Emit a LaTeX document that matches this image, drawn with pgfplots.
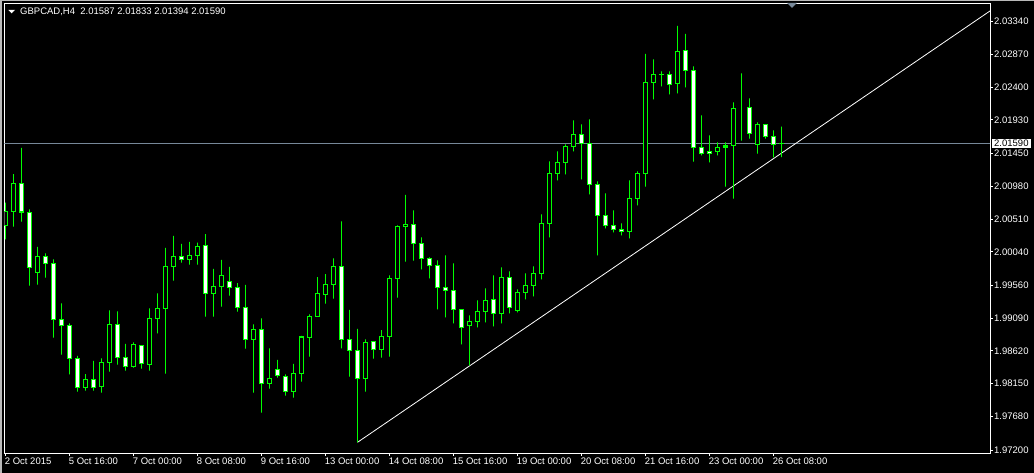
\documentclass[border=0pt]{standalone}
\usepackage{pgfplots}
\pgfplotsset{compat=1.18}
\usepackage{pgfplotstable}
\usepackage{fontspec}
\setmainfont{Liberation Sans}
\definecolor{mtgreen}{rgb}{0,1,0}
\definecolor{bidgray}{RGB}{119,136,153}

\pgfplotstableread{
k o h l c
0 2.00419 2.00742 2.00218 2.00619
1 2.00616 2.01153 2.00399 2.01020
2 2.01020 2.01526 2.00470 2.00609
3 2.00605 2.00648 1.99554 1.99817
4 1.99740 2.00108 1.99568 1.99975
5 1.99975 2.00018 1.99668 1.99875
6 1.99875 1.99932 1.98809 1.99073
7 1.99073 1.99302 1.98566 1.98981
8 1.98987 1.99015 1.98285 1.98514
9 1.98514 1.98547 1.98036 1.98099
10 1.98099 1.98289 1.98050 1.98213
11 1.98213 1.98476 1.98050 1.98099
12 1.98108 1.98514 1.98022 1.98457
13 1.98457 1.99202 1.98322 1.99001
14 1.99001 1.99187 1.98423 1.98529
15 1.98529 1.98719 1.98337 1.98400
16 1.98394 1.98743 1.98380 1.98715
17 1.98700 1.98700 1.98365 1.98443
18 1.98428 1.99230 1.98337 1.99087
19 1.99087 1.99445 1.98872 1.99230
20 1.99230 2.00094 1.98294 1.99832
21 1.99832 2.00266 1.99625 1.99975
22 1.99975 2.00151 1.99883 1.99932
23 1.99932 2.00180 1.99855 1.99989
24 1.99989 2.00170 1.99855 2.00118
25 2.00132 2.00294 1.99110 1.99445
26 1.99445 1.99793 1.99110 1.99545
27 1.99545 1.99922 1.99253 1.99703
28 1.99617 1.99822 1.99411 1.99531
29 1.99531 1.99592 1.99182 1.99245
30 1.99245 1.99564 1.98652 1.98786
31 1.98786 1.99001 1.98022 1.98929
32 1.98929 1.99087 1.97735 1.98156
33 1.98156 1.98657 1.98079 1.98228
34 1.98357 1.98490 1.98236 1.98271
35 1.98256 1.98285 1.97979 1.98036
36 1.98036 1.98433 1.97950 1.98299
37 1.98299 1.98834 1.98179 1.98819
38 1.98815 1.99144 1.98537 1.99116
39 1.99116 1.99678 1.99116 1.99445
40 1.99431 1.99721 1.99296 1.99574
41 1.99574 1.99946 1.99368 1.99832
42 1.99832 2.00476 1.98655 1.98786
43 1.98786 1.99206 1.98251 1.98629
44 1.98629 1.98934 1.97311 1.98228
45 1.98228 1.98786 1.98036 1.98743
46 1.98758 1.98758 1.98508 1.98643
47 1.98643 1.98919 1.98523 1.98829
48 1.98829 1.99703 1.98537 1.99660
49 1.99660 2.00419 1.99382 2.00404
50 2.00404 2.00853 1.99898 2.00433
51 2.00433 2.00634 1.99912 2.00161
52 2.00161 2.00247 1.99789 1.99946
53 1.99946 1.99961 1.99660 1.99846
54 1.99846 1.99918 1.99216 1.99531
55 1.99531 1.99989 1.99101 1.99488
56 1.99488 1.99875 1.99015 1.99216
57 1.99216 1.99216 1.98715 1.98958
58 1.98987 1.99130 1.98414 1.99044
59 1.99044 1.99345 1.98958 1.99187
60 1.99187 1.99517 1.99030 1.99345
61 1.99359 1.99703 1.98972 1.99159
62 1.99159 1.99817 1.99015 1.99674
63 1.99674 1.99760 1.99159 1.99245
64 1.99202 1.99502 1.99173 1.99459
65 1.99459 1.99731 1.99359 1.99560
66 1.99560 1.99832 1.99402 1.99731
67 1.99731 2.00576 1.99645 2.00447
68 2.00447 2.01335 2.00247 2.01163
69 2.01163 2.01478 2.01063 2.01321
70 2.01321 2.01579 2.01149 2.01550
71 2.01550 2.01922 2.01478 2.01722
72 2.01722 2.01865 2.01077 2.01593
73 2.01593 2.01937 2.00863 2.01006
74 2.01006 2.01049 1.99989 2.00562
75 2.00562 2.00877 2.00376 2.00419
76 2.00419 2.00634 2.00318 2.00361
77 2.00361 2.00447 2.00276 2.00333
78 2.00333 2.01063 2.00233 2.00805
79 2.00805 2.01192 2.00705 2.01163
80 2.01163 2.02872 2.00974 2.02467
81 2.02467 2.02796 2.02223 2.02581
82 2.02581 2.02624 2.02409 2.02576
83 2.02581 2.02624 2.02295 2.02438
84 2.02452 2.03273 2.02309 2.02910
85 2.02925 2.03158 2.02395 2.02638
86 2.02638 2.02696 2.01330 2.01536
87 2.01536 2.01994 2.01421 2.01450
88 2.01478 2.01708 2.01321 2.01450
89 2.01478 2.01607 2.01421 2.01536
90 2.01554 2.01607 2.00972 2.01536
91 2.01564 2.02180 2.00800 2.02094
92 2.02094 2.02595 2.01630 2.02094
93 2.02108 2.02237 2.01659 2.01736
94 2.01579 2.01894 2.01444 2.01865
95 2.01865 2.01865 2.01659 2.01693
96 2.01693 2.01779 2.01393 2.01579
97 2.01587 2.01833 2.01394 2.01590
}\candles

\pgfplotsset{mtaxis/.style={
  scale only axis, width=985.5pt, height=450pt,
  at={(4.5pt,20pt)}, anchor=south west,
  xmin=-0.125, xmax=123.0625, ymin=0.00158, ymax=0.06602, clip=true}}

\begin{document}
\begin{tikzpicture}[x=1pt,y=1pt]
\fill[black] (0,0) rectangle (1034,473);
\useasboundingbox (0,0) rectangle (1034,473);
\fill[gray!55] (0,0) rectangle (2,473);
\fill[gray!55] (0,472) rectangle (1034,473);
\begin{axis}[mtaxis,
  axis line style={white, line width=0.8pt},
  font=\fontsize{9.5}{11}\selectfont,
  /pgf/number format/assume math mode=true,
  tick align=outside, major tick length=3pt,
  tick style={white, line width=0.8pt},
  xtick pos=lower, ytick pos=right,
  yticklabel pos=right,
  xtick={0,8,16,24,32,40,48,56,64,72,80,88,96},
  xticklabels={2 Oct 2015, 5 Oct 16:00, 7 Oct 00:00, 8 Oct 08:00, 9 Oct 16:00, 13 Oct 00:00, 14 Oct 08:00, 15 Oct 16:00, 19 Oct 00:00, 20 Oct 08:00, 21 Oct 16:00, 23 Oct 00:00, 26 Oct 08:00},
  xticklabel style={white, anchor=north west, inner sep=0pt, xshift=-0.8pt, yshift=-2pt},
  ytick={0.0634,0.0587,0.054,0.0493,0.0445,0.0398,0.0351,0.0304,0.0256,0.0209,0.0162,0.0115,0.0068,0.002},
  yticklabels={2.03340,2.02870,2.02400,2.01930,2.01450,2.00980,2.00510,2.00040,1.99560,1.99090,1.98620,1.98150,1.97680,1.97200},
  yticklabel style={white, anchor=west, inner sep=0pt, xshift=1pt},
  extra y ticks={0.0459},
  extra y tick labels={2.01590},
  extra y tick style={major tick length=0pt, yticklabel style={fill=white, text=black, inner xsep=2pt, inner ysep=1.5pt, xshift=1pt}},
]
\addplot[bidgray, line width=0.8pt] coordinates {(-0.125,0.0459) (123.0625,0.0459)};
\addplot[white, line width=0.8pt] coordinates {(44,0.00311) (123.0625,0.06488)};
\end{axis}
\begin{axis}[mtaxis, hide axis, ybar stacked, bar width=0pt]
\addplot[draw=none, fill=none] table[x=k, y expr={\thisrow{l}-1.97}]{\candles};
\addplot[draw=mtgreen, fill=mtgreen, line width=1.1pt] table[x=k, y expr={\thisrow{h}-\thisrow{l}}]{\candles};
\end{axis}
\begin{axis}[mtaxis, hide axis, ybar stacked, bar width=4pt]
\addplot[draw=none, fill=none] table[x=k, y expr={min(\thisrow{o},\thisrow{c})-1.97}]{\candles};
\addplot[draw=mtgreen, fill=black, line width=1.1pt] table[x=k, y expr={max(\thisrow{c}-\thisrow{o},0)}]{\candles};
\addplot[draw=mtgreen, fill=white, line width=1.1pt] table[x=k, y expr={max(\thisrow{o}-\thisrow{c},0)}]{\candles};
\end{axis}
\fill[white] (8.3,463.2) -- (15,463.2) -- (11.65,459.6) -- cycle;
\node[anchor=west, inner sep=0pt, text=white, font=\fontsize{9.5}{11}\selectfont] at (20,461.5) {GBPCAD,H4 \ 2.01587 2.01833 2.01394 2.01590};
\fill[bidgray] (787,470) -- (797,470) -- (792,465) -- cycle;
\end{tikzpicture}
\end{document}
